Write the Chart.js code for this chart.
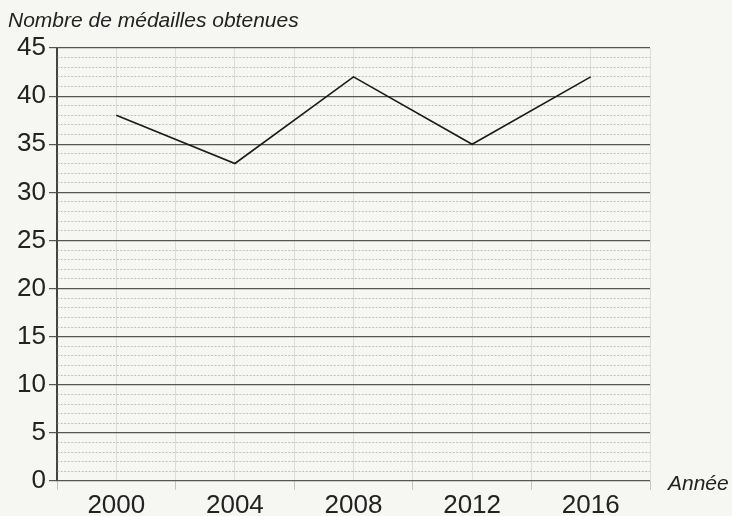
<!DOCTYPE html>
<html>
<head>
<meta charset="utf-8">
<script src="https://cdn.jsdelivr.net/npm/chart.js@4.4.0/dist/chart.umd.min.js"></script>
<style>
  html, body { margin: 0; padding: 0; background: #f6f6f3; }
  #wrap { width: 732px; height: 516px; }
</style>
</head>
<body>
<div id="wrap"><canvas id="medailles" width="732" height="516"></canvas></div>
<script>
// annees et medailles
const annees = [2000, 2004, 2008, 2012, 2016];
const medailles = [38, 33, 42, 35, 42];
const yTicks = [0, 5, 10, 15, 20, 25, 30, 35, 40, 45];

const police = "'Liberation Sans', Arial, sans-serif";

const textes = {
  id: "textes",
  afterDraw(chart) {
    const c = chart.ctx, a = chart.chartArea;
    c.save();
    c.fillStyle = "#222";
    c.font = "italic 21px " + police;
    c.textBaseline = "alphabetic";
    c.textAlign = "left";
    c.fillText("Nombre de médailles obtenues", 8, 27);
    c.fillText("Année", a.right + 18, a.bottom + 9);
    c.restore();
  }
};

const majeur = c => c.tick && c.tick.value % 5 === 0;

new Chart(document.getElementById("medailles"), {
  type: "line",
  data: {
    datasets: [{
      data: annees.map((a, i) => ({ x: a, y: medailles[i] })),
      borderColor: "#1a1a1a",
      borderWidth: 1.6,
      pointRadius: 0,
      tension: 0
    }]
  },
  options: {
    responsive: false,
    animation: false,
    layout: { padding: { left: 0, right: 82, top: 48, bottom: 0 } },
    plugins: { legend: { display: false }, tooltip: { enabled: false } },
    scales: {
      x: {
        type: "linear",
        min: 1998, max: 2018,
        afterFit(s) { s.height = 35; },
        ticks: {
          stepSize: 2,
          autoSkip: false,
          maxRotation: 0,
          minRotation: 0,
          color: "#222",
          padding: 0,
          font: { size: 26, family: police },
          callback: v => annees.includes(v) ? String(v) : ""
        },
        grid: {
          color: c => c.tick && c.tick.value === 1998 ? "#444" : "#dcdcdc",
          lineWidth: 1,
          tickLength: 9,
          tickColor: c => (c.tick && annees.includes(c.tick.value)) ? "rgba(0,0,0,0)" : "#c4c4c4"
        },
        border: { display: false }
      },
      y: {
        min: 0, max: 45,
        afterFit(s) { s.width = 57; },
        ticks: {
          stepSize: 1,
          autoSkip: false,
          color: "#222",
          padding: 3,
          font: { size: 26, family: police },
          callback: v => yTicks.includes(v) ? String(v) : ""
        },
        grid: {
          color: c => majeur(c) ? "#555" : "#a8a8a8",
          lineWidth: c => majeur(c) ? 1.2 : 0.7,
          tickLength: 8,
          tickColor: c => majeur(c) ? "#555" : "rgba(0,0,0,0)"
        },
        border: {
          display: true, color: "#444", width: 1.2,
          dash: c => majeur(c) ? [] : [2, 1.5]
        }
      }
    }
  },
  plugins: [textes]
});
</script>
</body>
</html>
